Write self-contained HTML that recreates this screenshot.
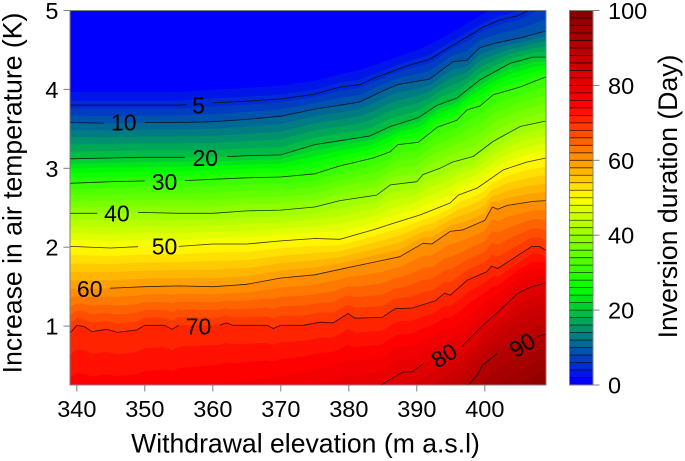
<!DOCTYPE html>
<html lang="en">
<head>
<meta charset="utf-8">
<title>Inversion duration contour chart</title>
<style>
html,body{margin:0;padding:0;background:#fff;width:685px;height:461px;overflow:hidden}
svg{display:block;font-family:"Liberation Sans",Arial,sans-serif;fill:#000;filter:blur(0.3px)}
</style>
</head>
<body>
<svg id="chart" width="685" height="461" viewBox="0 0 685 461" xmlns="http://www.w3.org/2000/svg">
  <defs><clipPath id="plot-clip"><rect x="70" y="10.5" width="476" height="374.5"/></clipPath></defs>
  <g id="bands" clip-path="url(#plot-clip)"></g>
  <g id="lines" clip-path="url(#plot-clip)"></g>
  <g id="contour-labels" font-size="23"></g>
  <rect x="70" y="10.5" width="476" height="374.5" fill="none" stroke="#808080" stroke-width="1"/>
  <g id="x-axis" font-size="23.5" text-anchor="middle"></g>
  <g id="y-axis" font-size="23.5" text-anchor="end"></g>
  <g id="colorbar"></g>
  <g id="colorbar-axis" font-size="23.5"></g>
  <text x="305.5" y="452.5" font-size="26.6" text-anchor="middle">Withdrawal elevation (m a.s.l)</text>
  <text transform="translate(21.7 193) rotate(-90)" font-size="26.6" text-anchor="middle">Increase in air temperature (K)</text>
  <text transform="translate(677 196.5) rotate(-90)" font-size="26.6" text-anchor="middle">Inversion duration (Day)</text>
</svg>
<script>
// Chart data: isolines of inversion duration, temperature (K) read at elevations (m)
const x0  = [339,345,350,355,360,365,370,375,380,385,390,395,400,405,409];
const t0  = [4.08,4.08,4.08,4.08,4.11,4.13,4.16,4.22,4.33,4.45,4.61,4.83,5.08,5.22,5.41];
const x5  = [339,345,350,355,360,365,370,375,378.7,381.6,383.6,388.6,391.9,394.9,398.3,399.7,402.2,404.7,406.2,409];
const t5  = [3.80,3.80,3.80,3.80,3.83,3.85,3.88,3.94,4.03,4.06,4.14,4.30,4.38,4.54,4.71,4.79,4.88,4.93,4.99,5.13];
const x10 = [339,345,350,355,360,365,370,375,378.7,381.6,385,387.1,391.9,395.3,397.4,399.3,401.8,405.6,409];
const t10 = [3.58,3.57,3.58,3.58,3.59,3.62,3.66,3.75,3.80,3.84,3.98,4.06,4.13,4.35,4.37,4.53,4.59,4.66,4.74];
const x20 = [339,345,350,355,360,365,370,375,378.7,383.1,386.1,390.2,393,395.9,399.3,403.7,407.1,409];
const t20 = [3.12,3.13,3.14,3.14,3.14,3.16,3.17,3.30,3.35,3.41,3.53,3.64,3.80,3.89,4.12,4.33,4.41,4.41];
const x30 = [339,345,350,355,360,365,370,375,378.7,383.6,386.1,387.2,390.2,393,395.9,397.4,399.3,401.2,405.2,409];
const t30 = [2.81,2.83,2.84,2.84,2.86,2.88,2.89,2.93,3.03,3.13,3.21,3.30,3.33,3.52,3.61,3.74,3.79,3.93,4.03,4.16];
const x40 = [339,345,350,355,360,365,370,375,378.7,384.1,386.1,390,390.9,393.4,395.3,398.3,401.2,405.2,409];
const t40 = [2.43,2.43,2.44,2.43,2.43,2.46,2.47,2.51,2.59,2.66,2.79,2.83,2.92,3.00,3.08,3.15,3.34,3.53,3.60];
const x50 = [339,345,350,355,360,365,370,375,378.7,383.6,386.1,390.5,394.9,396.1,398.9,402.7,406.2,409];
const t50 = [2.01,1.99,2.01,2.01,2.04,2.04,2.08,2.11,2.10,2.22,2.29,2.41,2.56,2.66,2.75,2.98,3.08,3.13];
const x60 = [339,345,350,355,360,365,370,375,378.7,383.1,387.5,390.9,392.2,394.9,396.8,400,401.1,401.9,403.3,407.1,409];
const t60 = [1.47,1.48,1.50,1.51,1.50,1.53,1.61,1.65,1.72,1.80,1.88,2.05,2.04,2.20,2.22,2.34,2.51,2.48,2.53,2.58,2.59];
const x70 = [339,340,341.2,342.2,344.4,346,348.8,350,352.9,354,355,361,362,362.9,368,368.9,370,373.3,375.8,377.7,379.9,380.9,384.9,386.8,389.3,392.7,394.1,394.9,397.4,400.3,401,401.9,406.9,408,409];
const t70 = [0.91,1.01,0.99,0.93,0.96,0.92,0.95,1.01,1.01,0.96,1.01,1.01,1.04,1.01,1.01,0.97,1.01,1.01,1.05,1.04,1.16,1.10,1.11,1.22,1.23,1.32,1.42,1.39,1.58,1.69,1.76,1.73,2.01,2.01,1.96];
const x80 = [339,350,360,370,380,384.6,386.4,388,389.3,390.9,396.6,399.7,402.2,404.9,406.9,409];
const t80 = [-0.51,-0.44,-0.25,-0.06,0.17,0.25,0.34,0.42,0.42,0.52,0.74,1.01,1.20,1.42,1.50,1.55];
const x90 = [339,380,390.5,397.5,398.9,399.7,401.8,407.7,409];
const t90 = [-2.47,-0.95,-0.38,0.25,0.38,0.51,0.65,0.87,0.90];
const x100 = [339,380,390,397.5,405,409];
const t100 = [-5,-2.5,-1.3,-0.6,-0.1,0.17];

const contourLevels = [0,5,10,20,30,40,50,60,70,80,90,100];
const contourX = [x0,x5,x10,x20,x30,x40,x50,x60,x70,x80,x90,x100];
const contourT = [t0,t5,t10,t20,t30,t40,t50,t60,t70,t80,t90,t100];

const xTicks = [340,350,360,370,380,390,400];
const yTicks = [1,2,3,4,5];
const barTicks = [0,20,40,60,80,100];
const rampColors = [[0,0,255],[0,255,0],[255,255,0],[255,0,0],[139,0,0]];
const bandCount = 50;
const tMin = 0.25;

// Label placement along each isoline: level, centre elevation, centre temperature, rotation, gap start, gap end
const labelLevels = [5,10,20,30,40,50,60,70,80,90];
const labelX = [357.9,346.9,358.9,352.9,345.9,352.9,341.9,357.9,394,405.5];
const labelT = [3.80,3.58,3.13,2.83,2.43,2.01,1.47,1.00,0.63,0.76];
const labelAngle = [0,0,0,0,0,0,0,0,-31,-31];
const gapStart = [356.1,344,355.9,350,343,349,339,355,390.9,401.8];
const gapEnd = [360,350,362.1,355.9,349,355,344.9,361,396.6,407.7];

// Axis functions
const NS = 'http://www.w3.org/2000/svg';
const sx = v => 70 + (v - 339) * 6.8;
const sy = v => 10.5 + (5 - v) * 78.9;
const sb = v => 385 - v * 3.745;

function make(tag, attrs, parent, text) {
  const e = document.createElementNS(NS, tag);
  for (const k in attrs) e.setAttribute(k, attrs[k]);
  if (text !== undefined) e.textContent = text;
  parent.appendChild(e);
  return e;
}
function interp(xs, ys, x) {
  if (x <= xs[0]) return ys[0];
  for (let i = 1; i < xs.length; i++) {
    if (x <= xs[i]) return ys[i-1] + (ys[i] - ys[i-1]) * (x - xs[i-1]) / (xs[i] - xs[i-1]);
  }
  return ys[ys.length - 1];
}
function boundaryT(level, x) {
  let k = 0;
  while (k < contourLevels.length - 2 && level > contourLevels[k+1]) k++;
  const a = interp(contourX[k], contourT[k], x);
  const b = interp(contourX[k+1], contourT[k+1], x);
  return a + (b - a) * (level - contourLevels[k]) / (contourLevels[k+1] - contourLevels[k]);
}
function bandColor(i) {
  const p = i / (bandCount - 1) * (rampColors.length - 1);
  const j = Math.min(Math.floor(p), rampColors.length - 2);
  const f = p - j;
  const c = [0,1,2].map(n => Math.round(rampColors[j][n] + (rampColors[j+1][n] - rampColors[j][n]) * f));
  return 'rgb(' + c.join(',') + ')';
}
// Keep only the part of an isoline that lies inside the temperature range
function clipLow(seg) {
  const out = [];
  seg.forEach((p, i) => {
    const prev = seg[i-1];
    if (prev && (prev[1] < tMin) !== (p[1] < tMin)) {
      const f = (tMin - prev[1]) / (p[1] - prev[1]);
      out.push([prev[0] + (p[0] - prev[0]) * f, tMin]);
    }
    if (p[1] >= tMin) out.push(p);
  });
  return out;
}

// Filled bands, painted from the top region downward
const bandsG = document.getElementById('bands');
const rect0 = make('rect', {x:70, y:10.5, width:476, height:375, fill:bandColor(0)}, bandsG);


for (let i = 1; i < bandCount; i++) {
  const level = i * 100 / bandCount;
  const pts = [];
  for (let x = 339; x <= 409; x += 0.5) {
    const py = Math.max(5, Math.min(400, sy(boundaryT(level, x))));
    pts.push(sx(x).toFixed(1) + ',' + py.toFixed(1));
  }
  pts.push(sx(409).toFixed(1) + ',400');
  pts.push(sx(339).toFixed(1) + ',400');
  const poly = make('polygon', {points: pts.join(' '), fill: bandColor(i)}, bandsG);
  
  
}

// Isolines with gaps at their labels
const linesG = document.getElementById('lines');
const labelsG = document.getElementById('contour-labels');
labelLevels.forEach((level, n) => {
  const k = contourLevels.indexOf(level);
  const xs = contourX[k], ts = contourT[k];
  const g0 = gapStart[n], g1 = gapEnd[n];
  const left = [], right = [];
  xs.forEach((x, i) => {
    if (x <= g0) left.push([x, ts[i]]);
    if (x >= g1) right.push([x, ts[i]]);
  });
  left.push([g0, interp(xs, ts, g0)]);
  right.unshift([g1, interp(xs, ts, g1)]);
  [left, right].forEach(raw => {
    const seg = clipLow(raw);
    if (seg.length < 2) return;
    const line = make('polyline', {
      points: seg.map(p => sx(p[0]).toFixed(1) + ',' + sy(p[1]).toFixed(1)).join(' '),
      fill: 'none', stroke: '#000', 'stroke-width': 0.8, 'stroke-opacity': 0.8, 'stroke-linejoin': 'round'
    }, linesG);
    
    
  });
  const cx = sx(labelX[n]), cy = sy(labelT[n]);
  const label = make('text', {
    transform: 'translate(' + cx.toFixed(1) + ' ' + cy.toFixed(1) + ') rotate(' + labelAngle[n] + ')',
    y: 8.2, 'text-anchor': 'middle'
  }, labelsG, String(level));
  
  
});

// X axis
const xAxisG = document.getElementById('x-axis');
xTicks.forEach(v => {
  const tick = make('line', {x1: sx(v), x2: sx(v), y1: 385, y2: 391.5, stroke: '#808080', 'stroke-width': 1}, xAxisG);
  
  
  const lab = make('text', {x: sx(v), y: 417}, xAxisG, String(v));
  
  
});

// Y axis
const yAxisG = document.getElementById('y-axis');
yTicks.forEach(v => {
  const tick = make('line', {x1: 63.5, x2: 70, y1: sy(v), y2: sy(v), stroke: '#808080', 'stroke-width': 1}, yAxisG);
  
  
  const lab = make('text', {x: 58.5, y: sy(v) + 8.5}, yAxisG, String(v));
  
  
});

// Colour bar
const barG = document.getElementById('colorbar');
for (let i = 0; i < bandCount; i++) {
  const lo = i * 100 / bandCount, hi = (i + 1) * 100 / bandCount;
  const r = make('rect', {x: 569.5, y: sb(hi), width: 23.5, height: sb(lo) - sb(hi) + 0.3, fill: bandColor(i)}, barG);
  
  
}
for (let i = 1; i < bandCount; i++) {
  const lv = i * 100 / bandCount;
  const sep = make('line', {x1: 569.5, x2: 593, y1: sb(lv), y2: sb(lv), stroke: '#000', 'stroke-width': 0.8, 'stroke-opacity': 0.75}, barG);
  
  
}
const barBorder = make('rect', {x: 569.5, y: 10.5, width: 23.5, height: 374.5, fill: 'none', stroke: '#808080', 'stroke-width': 1}, barG);



const barAxisG = document.getElementById('colorbar-axis');
barTicks.forEach(v => {
  const tick = make('line', {x1: 593, x2: 599.5, y1: sb(v), y2: sb(v), stroke: '#808080', 'stroke-width': 1}, barAxisG);
  
  
  const lab = make('text', {x: 608, y: sb(v) + 8.5}, barAxisG, String(v));
  
  
});
</script>
</body>
</html>
